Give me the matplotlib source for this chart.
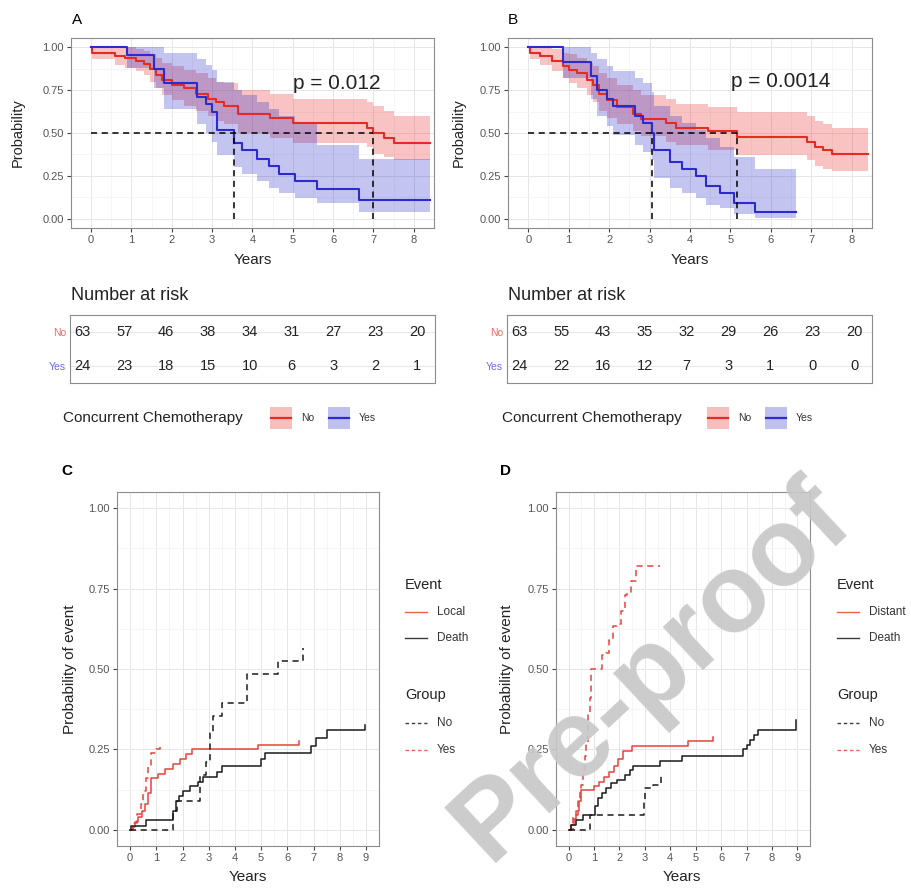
import matplotlib
matplotlib.use("Agg")
import matplotlib.pyplot as plt
from matplotlib.patches import Rectangle
from matplotlib.lines import Line2D

plt.rcParams['font.family'] = ['Liberation Sans', 'DejaVu Sans']

# ---------------- data: panel A (overall survival by chemo) ----------------
a_no_t = [0, 0.03, 0.6, 0.85, 1.1, 1.3, 1.45, 1.6, 1.75, 2.0, 2.3, 2.6, 2.9, 3.1, 3.3, 3.63, 4.43, 5.0, 6.85, 7.0, 7.25, 7.5, 8.4]
a_no_s = [1.0, 0.968, 0.952, 0.937, 0.921, 0.905, 0.873, 0.841, 0.81, 0.778, 0.762, 0.73, 0.70, 0.68, 0.66, 0.61, 0.59, 0.557, 0.53, 0.50, 0.47, 0.44, 0.44]
a_no_hi = [1.0, 1.0, 1.0, 1.0, 0.99, 0.98, 0.96, 0.94, 0.91, 0.89, 0.87, 0.85, 0.82, 0.80, 0.79, 0.75, 0.73, 0.70, 0.68, 0.66, 0.63, 0.60, 0.60]
a_no_lo = [1.0, 0.93, 0.90, 0.88, 0.86, 0.84, 0.80, 0.76, 0.72, 0.69, 0.66, 0.63, 0.60, 0.57, 0.55, 0.50, 0.47, 0.44, 0.42, 0.38, 0.36, 0.34, 0.34]

a_yes_t = [0, 0.88, 1.55, 1.8, 2.63, 2.85, 3.0, 3.12, 3.55, 3.75, 4.1, 4.4, 4.65, 5.05, 5.6, 6.65, 8.4]
a_yes_s = [1.0, 0.958, 0.875, 0.79, 0.71, 0.67, 0.625, 0.52, 0.44, 0.40, 0.35, 0.31, 0.26, 0.22, 0.17, 0.11, 0.11]
a_yes_hi = [1.0, 1.0, 1.0, 0.97, 0.93, 0.90, 0.87, 0.80, 0.75, 0.72, 0.68, 0.64, 0.60, 0.56, 0.43, 0.35, 0.35]
a_yes_lo = [1.0, 0.88, 0.76, 0.64, 0.55, 0.50, 0.45, 0.37, 0.30, 0.26, 0.22, 0.18, 0.15, 0.12, 0.09, 0.04, 0.04]

# ---------------- data: panel B ----------------
b_no_t = [0, 0.05, 0.3, 0.6, 0.85, 1.0, 1.2, 1.45, 1.6, 1.75, 1.95, 2.2, 2.6, 2.8, 3.4, 3.65, 4.45, 5.15, 6.9, 7.1, 7.3, 7.5, 8.4]
b_no_s = [1.0, 0.968, 0.952, 0.92, 0.89, 0.87, 0.85, 0.81, 0.78, 0.73, 0.69, 0.65, 0.61, 0.58, 0.56, 0.53, 0.51, 0.476, 0.45, 0.42, 0.40, 0.38, 0.38]
b_no_hi = [1.0, 1.0, 1.0, 0.99, 0.97, 0.96, 0.94, 0.91, 0.89, 0.85, 0.82, 0.78, 0.75, 0.72, 0.70, 0.67, 0.65, 0.62, 0.60, 0.57, 0.55, 0.53, 0.53]
b_no_lo = [1.0, 0.93, 0.90, 0.86, 0.82, 0.79, 0.76, 0.72, 0.68, 0.63, 0.59, 0.55, 0.51, 0.48, 0.45, 0.43, 0.40, 0.37, 0.34, 0.31, 0.29, 0.28, 0.28]

b_yes_t = [0, 0.85, 1.54, 1.7, 1.95, 2.1, 2.65, 2.85, 3.05, 3.12, 3.5, 3.8, 4.15, 4.4, 4.75, 5.1, 5.6, 6.63]
b_yes_s = [1.0, 0.917, 0.833, 0.75, 0.70, 0.66, 0.60, 0.56, 0.50, 0.40, 0.33, 0.29, 0.25, 0.19, 0.15, 0.09, 0.04, 0.04]
b_yes_hi = [1.0, 1.0, 0.97, 0.93, 0.89, 0.86, 0.82, 0.79, 0.74, 0.66, 0.60, 0.56, 0.52, 0.47, 0.42, 0.36, 0.29, 0.29]
b_yes_lo = [1.0, 0.82, 0.70, 0.60, 0.54, 0.49, 0.43, 0.39, 0.34, 0.24, 0.18, 0.15, 0.12, 0.08, 0.06, 0.025, 0.005, 0.005]

# number at risk at years 0..8
risk_years = [0, 1, 2, 3, 4, 5, 6, 7, 8]
a_risk_no = [63, 57, 46, 38, 34, 31, 27, 23, 20]
a_risk_yes = [24, 23, 18, 15, 10, 6, 3, 2, 1]
b_risk_no = [63, 55, 43, 35, 32, 29, 26, 23, 20]
b_risk_yes = [24, 22, 16, 12, 7, 3, 1, 0, 0]

# ---------------- data: panel C (local / death cumulative incidence) ----------------
c_local_no_t = [0, 0.1, 0.2, 0.3, 0.45, 0.55, 0.7, 0.8, 1.05, 1.35, 1.65, 1.9, 2.15, 2.35, 4.9, 6.45]
c_local_no_y = [0, 0.01, 0.025, 0.04, 0.06, 0.08, 0.115, 0.16, 0.175, 0.19, 0.205, 0.22, 0.235, 0.25, 0.265, 0.275]
c_local_yes_t = [0, 0.1, 0.25, 0.4, 0.5, 0.6, 0.7, 0.8, 1.0, 1.15]
c_local_yes_y = [0, 0.02, 0.05, 0.08, 0.12, 0.16, 0.2, 0.24, 0.25, 0.27]
c_death_no_t = [0, 0.05, 0.6, 1.65, 1.75, 1.85, 2.0, 2.3, 2.6, 2.8, 3.3, 3.5, 5.0, 5.15, 6.9, 7.1, 7.5, 8.95]
c_death_no_y = [0, 0.012, 0.03, 0.06, 0.09, 0.105, 0.12, 0.135, 0.15, 0.165, 0.18, 0.2, 0.22, 0.24, 0.26, 0.285, 0.31, 0.325]
c_death_yes_t = [0, 1.65, 1.8, 2.65, 2.9, 3.05, 3.15, 3.5, 4.45, 5.65, 6.6]
c_death_yes_y = [0, 0.06, 0.09, 0.17, 0.21, 0.30, 0.355, 0.395, 0.485, 0.525, 0.565]

# ---------------- data: panel D (distant / death) ----------------
d_dist_no_t = [0, 0.1, 0.2, 0.3, 0.4, 0.5, 1.0, 1.2, 1.4, 1.6, 1.8, 1.95, 2.15, 2.5, 4.7, 5.7]
d_dist_no_y = [0, 0.015, 0.035, 0.06, 0.09, 0.125, 0.135, 0.15, 0.165, 0.18, 0.2, 0.22, 0.245, 0.26, 0.275, 0.29]
d_dist_yes_t = [0, 0.15, 0.25, 0.35, 0.45, 0.5, 0.55, 0.63, 0.7, 0.76, 0.83, 0.89, 1.3, 1.45, 1.6, 1.75, 1.9, 2.05, 2.2, 2.3, 2.45, 2.65, 3.6]
d_dist_yes_y = [0, 0.04, 0.045, 0.09, 0.12, 0.14, 0.18, 0.23, 0.27, 0.36, 0.41, 0.50, 0.545, 0.55, 0.59, 0.635, 0.64, 0.68, 0.73, 0.735, 0.775, 0.82, 0.82]
d_death_no_t = [0, 0.1, 0.3, 0.55, 1.05, 1.15, 1.3, 1.45, 1.65, 1.9, 2.2, 2.4, 2.55, 3.6, 4.45, 6.85, 7.0, 7.15, 7.3, 7.45, 8.95]
d_death_no_y = [0, 0.015, 0.03, 0.045, 0.075, 0.1, 0.115, 0.13, 0.145, 0.155, 0.17, 0.185, 0.2, 0.215, 0.23, 0.25, 0.265, 0.28, 0.295, 0.31, 0.34]
d_death_yes_t = [0, 0.85, 2.95, 3.0, 3.3, 3.65]
d_death_yes_y = [0, 0.045, 0.09, 0.13, 0.14, 0.17]

W, H = 912, 889
RED, BLUE = '#E62A24', '#2B2BD0'
CRED, CBLACK = '#E5423C', '#1a1a1a'
GRID_MAJ, GRID_MIN = '#e6e6e6', '#f2f2f2'
TICKC = '#555555'


def frac(l, t, r, b):
    return [l / W, 1 - b / H, (r - l) / W, (b - t) / H]


def fx(x):
    return x / W


def fy(y):
    return 1 - y / H


fig = plt.figure(figsize=(W / 100, H / 100), dpi=100)


def style_ax(ax, xmax_tick):
    ax.set_xticks(range(0, xmax_tick + 1))
    ax.set_xticks([i + 0.5 for i in range(-1, xmax_tick + 1)], minor=True)
    ax.set_yticks([0, 0.25, 0.5, 0.75, 1.0])
    ax.set_yticklabels(['0.00', '0.25', '0.50', '0.75', '1.00'])
    ax.set_yticks([0.125, 0.375, 0.625, 0.875], minor=True)
    ax.grid(True, which='major', color=GRID_MAJ, lw=0.7)
    ax.grid(True, which='minor', color=GRID_MIN, lw=0.5)
    ax.set_axisbelow(True)
    ax.tick_params(which='major', length=3, width=0.8, color='#444444',
                   labelsize=8, labelcolor=TICKC, pad=2)
    ax.tick_params(which='minor', length=0)
    for sp in ax.spines.values():
        sp.set_color('#8c8c8c')
        sp.set_linewidth(0.8)


def median_time(t, s):
    for ti, si in zip(t, s):
        if si <= 0.5:
            return ti
    return None


def km_panel(rect, groups, pval, ptxt_xy, label, label_xy, ylab_x, xlab_xy):
    ax = fig.add_axes(frac(*rect))
    for t, s, lo, hi, col in groups:
        ax.fill_between(t, lo, hi, step='post', color=col, alpha=0.28, lw=0)
    for t, s, lo, hi, col in groups:
        ax.step(t, s, where='post', color=col, lw=1.5)
    meds = [median_time(g[0], g[1]) for g in groups]
    ax.plot([0, max(meds)], [0.5, 0.5], ls=(0, (4, 3)), color='black', lw=1.1)
    for m in meds:
        ax.plot([m, m], [0, 0.5], ls=(0, (4, 3)), color='black', lw=1.1)
    ax.set_xlim(-0.37, 8.4)
    ax.set_ylim(-0.055, 1.055)
    style_ax(ax, 8)
    ax.text(ptxt_xy[0], ptxt_xy[1], pval, ha='center', va='center', fontsize=15, color='#222222')
    fig.text(fx(label_xy[0]), fy(label_xy[1]), label, fontsize=11, ha='left', va='center')
    fig.text(fx(ylab_x), fy((rect[1] + rect[3]) / 2), 'Probability', rotation=90,
             fontsize=10.5, ha='center', va='center', color='#222222')
    fig.text(fx(xlab_xy[0]), fy(xlab_xy[1]), 'Years', fontsize=11, ha='center', va='center', color='#222222')
    return ax


def risk_table(rect, no_vals, yes_vals, title_x):
    ax = fig.add_axes(frac(*rect))
    ax.set_xlim(-0.3, 8.43)
    ax.set_ylim(-0.5, 1.5)
    for y in [0, 1]:
        ax.axhline(y, color='#e8e8e8', lw=0.8, zorder=0)
    for yr, n in zip(risk_years, no_vals):
        ax.text(yr, 1, str(n), ha='center', va='center', fontsize=10.5, color='#222222')
    for yr, n in zip(risk_years, yes_vals):
        ax.text(yr, 0, str(n), ha='center', va='center', fontsize=10.5, color='#222222')
    ax.set_xticks([])
    ax.set_yticks([1, 0])
    ax.set_yticklabels(['No', 'Yes'])
    ax.tick_params(axis='y', length=0, labelsize=7.5, pad=3)
    ax.get_yticklabels()[0].set_color('#ee6b6b')
    ax.get_yticklabels()[1].set_color('#6b6bee')
    for sp in ax.spines.values():
        sp.set_color('#8c8c8c')
        sp.set_linewidth(0.8)
    fig.text(fx(title_x), fy(rect[1] - 20), 'Number at risk', fontsize=13, ha='left', va='center', color='#222222')
    return ax


def chemo_legend(title_x, key1_x, key2_x, y):
    fig.text(fx(title_x), fy(y), 'Concurrent Chemotherapy', fontsize=11, ha='left', va='center', color='#222222')
    for kx, col, lab in [(key1_x, RED, 'No'), (key2_x, BLUE, 'Yes')]:
        fig.add_artist(Rectangle((fx(kx), fy(y + 11)), 22 / W, 22 / H, transform=fig.transFigure,
                                 facecolor=col, alpha=0.3, lw=0))
        fig.add_artist(Line2D([fx(kx + 1), fx(kx + 21)], [fy(y), fy(y)], transform=fig.transFigure,
                              color=col, lw=1.6))
        fig.text(fx(kx + 31), fy(y), lab, fontsize=7.5, ha='left', va='center', color='#333333')


def cif_panel(rect, curves, label, label_xy, ylab_x, xlab_xy, leg_x, ev_name):
    ax = fig.add_axes(frac(*rect))
    for t, y, col, ls in curves:
        ax.step(t, y, where='post', color=col, lw=1.1, ls=ls)
    ax.set_xlim(-0.45, 9.45)
    ax.set_ylim(-0.05, 1.05)
    style_ax(ax, 9)
    fig.text(fx(label_xy[0]), fy(label_xy[1]), label, fontsize=11, fontweight='bold', ha='center', va='center')
    fig.text(fx(ylab_x), fy((rect[1] + rect[3]) / 2), 'Probability of event', rotation=90,
             fontsize=11, ha='center', va='center', color='#222222')
    fig.text(fx(xlab_xy[0]), fy(xlab_xy[1]), 'Years', fontsize=11, ha='center', va='center', color='#222222')
    # legend
    fig.text(fx(leg_x), fy(585), 'Event', fontsize=10.5, ha='left', va='center', color='#222222')
    fig.text(fx(leg_x), fy(695), 'Group', fontsize=10.5, ha='left', va='center', color='#222222')
    entries = [(612, CRED, '-', ev_name), (638, CBLACK, '-', 'Death'),
               (723, CBLACK, (0, (2.5, 2)), 'No'), (750, CRED, (0, (2.5, 2)), 'Yes')]
    for y, col, ls, lab in entries:
        fig.add_artist(Line2D([fx(leg_x), fx(leg_x + 22)], [fy(y), fy(y)], transform=fig.transFigure,
                              color=col, lw=1.0, ls=ls, alpha=0.85))
        fig.text(fx(leg_x + 32), fy(y), lab, fontsize=8.5, ha='left', va='center', color='#333333')
    return ax


# ---------- A ----------
km_panel((71, 38, 434, 228),
         [(a_no_t, a_no_s, a_no_lo, a_no_hi, RED), (a_yes_t, a_yes_s, a_yes_lo, a_yes_hi, BLUE)],
         'p = 0.012', (6.1, 0.79), 'A', (72, 20), 18, (253, 260))
risk_table((70, 315, 435, 383), a_risk_no, a_risk_yes, 71)
chemo_legend(63, 270, 328, 418)

# ---------- B ----------
km_panel((508, 38, 872, 228),
         [(b_no_t, b_no_s, b_no_lo, b_no_hi, RED), (b_yes_t, b_yes_s, b_yes_lo, b_yes_hi, BLUE)],
         'p = 0.0014', (6.23, 0.80), 'B', (508, 20), 459, (690, 260))
risk_table((507, 315, 872, 383), b_risk_no, b_risk_yes, 508)
chemo_legend(502, 707, 765, 418)

# ---------- C ----------
dash = (0, (4, 3))
cif_panel((117, 492, 379, 846),
          [(c_local_no_t, c_local_no_y, CRED, '-'), (c_local_yes_t, c_local_yes_y, CRED, dash),
           (c_death_no_t, c_death_no_y, CBLACK, '-'), (c_death_yes_t, c_death_yes_y, CBLACK, dash)],
          'C', (67, 471), 70, (248, 877), 405, 'Local')

# ---------- D ----------
cif_panel((556, 492, 810, 846),
          [(d_dist_no_t, d_dist_no_y, CRED, '-'), (d_dist_yes_t, d_dist_yes_y, CRED, dash),
           (d_death_no_t, d_death_no_y, CBLACK, '-'), (d_death_yes_t, d_death_yes_y, CBLACK, dash)],
          'D', (506, 471), 507, (682, 877), 837, 'Distant')

# watermark
fig.text(fx(652), fy(672), 'Pre-proof', rotation=43, fontsize=80, fontweight='bold', color='#c8c8c8',
         ha='center', va='center', rotation_mode='anchor', alpha=0.92, zorder=100)

fig.savefig('out.png', dpi=100)
